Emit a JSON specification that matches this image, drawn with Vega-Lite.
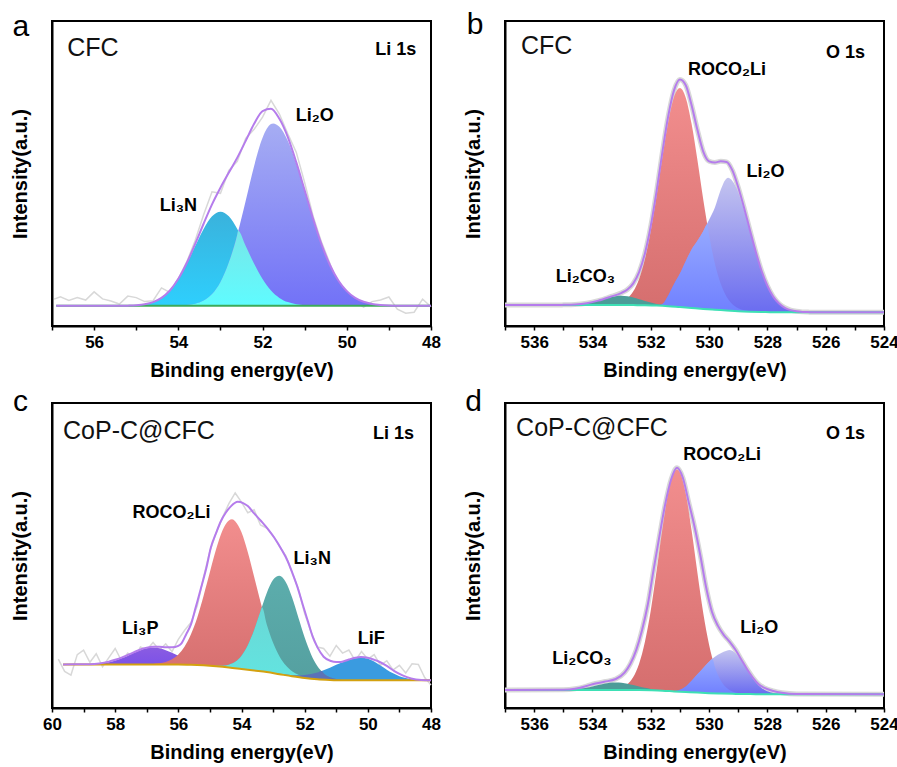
{
"$schema":"https://vega.github.io/schema/vega-lite/v6.json",
"background":"white",
"padding":{"left":9,"top":8,"right":0,"bottom":0},
"config":{
 "font":"Liberation Sans",
 "view":{"stroke":"black","strokeWidth":2},
 "axis":{"grid":false,"domainColor":"black","domainWidth":2,"tickColor":"black","labelColor":"black","titleColor":"black","titleFontSize":20,"titleFontWeight":"bold","labelFontSize":17,"labelFontWeight":"bold","labelFont":"Liberation Sans","titleFont":"Liberation Sans"},
 "axisX":{"tickSize":4,"tickWidth":1.5,"labelPadding":4,"titlePadding":10,"labelFlush":false,"labelOverlap":false},
 "axisY":{"labels":false,"ticks":false,"titlePadding":22}
},
"datasets":{
"aRaw":[{"e":56.95,"v":8.8},{"e":56.8,"v":9.6},{"e":56.6,"v":8.4},{"e":56.4,"v":9.3},{"e":56.2,"v":8.5},{"e":56.0,"v":11.2},{"e":55.8,"v":8.9},{"e":55.6,"v":8.2},{"e":55.4,"v":7.2},{"e":55.2,"v":9.8},{"e":55.0,"v":9.3},{"e":54.8,"v":8.0},{"e":54.6,"v":8.3},{"e":54.4,"v":12.5},{"e":54.2,"v":11.0},{"e":54.0,"v":15.5},{"e":53.8,"v":21.0},{"e":53.6,"v":28.0},{"e":53.4,"v":36.5},{"e":53.2,"v":44.0},{"e":53.0,"v":43.5},{"e":52.8,"v":51.0},{"e":52.6,"v":54.0},{"e":52.4,"v":61.5},{"e":52.2,"v":64.5},{"e":52.0,"v":68.5},{"e":51.8,"v":74.0},{"e":51.6,"v":69.5},{"e":51.4,"v":63.0},{"e":51.2,"v":57.0},{"e":51.0,"v":47.0},{"e":50.8,"v":36.0},{"e":50.6,"v":27.5},{"e":50.4,"v":20.5},{"e":50.2,"v":13.0},{"e":50.0,"v":11.5},{"e":49.8,"v":8.0},{"e":49.6,"v":6.2},{"e":49.4,"v":8.0},{"e":49.2,"v":8.5},{"e":49.0,"v":9.5},{"e":48.8,"v":5.5},{"e":48.6,"v":4.2},{"e":48.4,"v":4.5},{"e":48.2,"v":8.8},{"e":48.0,"v":6.3}],
"aN":[{"e":55.4,"v":6.6},{"e":55.2,"v":6.67},{"e":55.0,"v":6.8},{"e":54.8,"v":7.12},{"e":54.6,"v":7.83},{"e":54.4,"v":9.22},{"e":54.2,"v":11.64},{"e":54.0,"v":15.38},{"e":53.8,"v":20.4},{"e":53.6,"v":26.2},{"e":53.4,"v":31.8},{"e":53.2,"v":36.0},{"e":53.0,"v":37.5},{"e":52.8,"v":36.0},{"e":52.6,"v":31.8},{"e":52.4,"v":26.2},{"e":52.2,"v":20.4},{"e":52.0,"v":15.38},{"e":51.8,"v":11.64},{"e":51.6,"v":9.22},{"e":51.4,"v":7.83},{"e":51.2,"v":7.12},{"e":51.0,"v":6.8},{"e":50.8,"v":6.67},{"e":50.6,"v":6.6}],
"aL":[{"e":54.2,"v":6.6},{"e":54.0,"v":6.68},{"e":53.8,"v":6.85},{"e":53.6,"v":7.3},{"e":53.4,"v":8.33},{"e":53.2,"v":10.48},{"e":53.0,"v":14.44},{"e":52.8,"v":20.9},{"e":52.6,"v":30.0},{"e":52.4,"v":41.1},{"e":52.2,"v":52.5},{"e":52.0,"v":61.7},{"e":51.8,"v":66.2},{"e":51.75,"v":66.4},{"e":51.6,"v":65.3},{"e":51.4,"v":60.7},{"e":51.2,"v":53.2},{"e":51.0,"v":44.3},{"e":50.8,"v":35.1},{"e":50.6,"v":26.8},{"e":50.4,"v":20.0},{"e":50.2,"v":14.91},{"e":50.0,"v":11.43},{"e":49.8,"v":9.23},{"e":49.6,"v":7.94},{"e":49.4,"v":7.24},{"e":49.2,"v":6.89},{"e":49.0,"v":6.72},{"e":48.8,"v":6.65},{"e":48.6,"v":6.6}],
"aO":[{"e":54.2,"v":6.6},{"e":54.0,"v":6.68},{"e":53.8,"v":6.85},{"e":53.6,"v":7.3},{"e":53.4,"v":8.33},{"e":53.2,"v":10.48},{"e":53.0,"v":14.44},{"e":52.8,"v":20.9},{"e":52.6,"v":30.0},{"e":52.58,"v":31.2},{"e":52.4,"v":26.2},{"e":52.2,"v":20.4},{"e":52.0,"v":15.38},{"e":51.8,"v":11.64},{"e":51.6,"v":9.22},{"e":51.4,"v":7.83},{"e":51.2,"v":7.12},{"e":51.0,"v":6.8},{"e":50.8,"v":6.67},{"e":50.6,"v":6.6}],
"aE":[{"e":56.9,"v":6.6},{"e":55.4,"v":6.6},{"e":55.2,"v":6.67},{"e":55.0,"v":6.8},{"e":54.8,"v":7.12},{"e":54.6,"v":7.83},{"e":54.4,"v":9.22},{"e":54.2,"v":11.64},{"e":54.0,"v":15.46},{"e":53.8,"v":20.65},{"e":53.6,"v":26.9},{"e":53.4,"v":33.53},{"e":53.2,"v":39.88},{"e":53.0,"v":45.34},{"e":52.8,"v":50.3},{"e":52.6,"v":55.2},{"e":52.4,"v":60.7},{"e":52.2,"v":66.3},{"e":52.0,"v":70.48},{"e":51.8,"v":71.24},{"e":51.6,"v":67.92},{"e":51.4,"v":61.93},{"e":51.2,"v":53.72},{"e":51.0,"v":44.5},{"e":50.8,"v":35.17},{"e":50.6,"v":26.8},{"e":50.4,"v":20.0},{"e":50.2,"v":14.91},{"e":50.0,"v":11.43},{"e":49.8,"v":9.23},{"e":49.6,"v":7.94},{"e":49.4,"v":7.24},{"e":49.2,"v":6.89},{"e":49.0,"v":6.72},{"e":48.8,"v":6.65},{"e":48.0,"v":6.6}],
"aB":[{"e":56.9,"v":6.6},{"e":48.0,"v":6.6}],
"bR":[{"e":533.8,"v":6.9,"b":6.9},{"e":533.6,"v":6.95,"b":6.9},{"e":533.4,"v":7.04,"b":6.9},{"e":533.2,"v":7.28,"b":6.9},{"e":533.0,"v":7.85,"b":6.9},{"e":532.8,"v":9.04,"b":6.88},{"e":532.6,"v":11.36,"b":6.85},{"e":532.4,"v":15.45,"b":6.82},{"e":532.2,"v":21.9,"b":6.8},{"e":532.0,"v":31.15,"b":6.75},{"e":531.8,"v":42.6,"b":6.7},{"e":531.6,"v":55.3,"b":6.6},{"e":531.4,"v":66.9,"b":6.5},{"e":531.2,"v":75.15,"b":6.35},{"e":531.0,"v":78.0,"b":6.2},{"e":530.8,"v":74.85,"b":6.05},{"e":530.6,"v":66.3,"b":5.9},{"e":530.4,"v":54.45,"b":5.75},{"e":530.2,"v":41.5,"b":5.6},{"e":530.0,"v":29.9,"b":5.5},{"e":529.8,"v":20.45,"b":5.35},{"e":529.6,"v":13.83,"b":5.2},{"e":529.4,"v":9.61,"b":5.1},{"e":529.2,"v":7.11,"b":4.95},{"e":529.0,"v":5.8,"b":4.85},{"e":528.8,"v":5.13,"b":4.75},{"e":528.6,"v":4.84,"b":4.7},{"e":528.4,"v":4.7,"b":4.65},{"e":528.2,"v":4.6,"b":4.6}],
"bL":[{"e":531.8,"v":6.7,"b":6.7},{"e":531.6,"v":7.2,"b":6.6},{"e":531.4,"v":10.0,"b":6.5},{"e":531.2,"v":13.75,"b":6.35},{"e":531.0,"v":17.2,"b":6.2},{"e":530.8,"v":21.25,"b":6.05},{"e":530.6,"v":25.1,"b":5.9},{"e":530.4,"v":27.95,"b":5.75},{"e":530.2,"v":31.1,"b":5.6},{"e":530.0,"v":34.8,"b":5.5},{"e":529.8,"v":38.85,"b":5.35},{"e":529.6,"v":44.7,"b":5.2},{"e":529.4,"v":48.4,"b":5.1},{"e":529.35,"v":48.57,"b":5.07},{"e":529.2,"v":47.55,"b":4.95},{"e":529.0,"v":43.85,"b":4.85},{"e":528.8,"v":37.95,"b":4.75},{"e":528.6,"v":31.1,"b":4.7},{"e":528.4,"v":24.15,"b":4.65},{"e":528.2,"v":18.0,"b":4.6},{"e":528.0,"v":13.16,"b":4.55},{"e":527.8,"v":9.64,"b":4.5},{"e":527.6,"v":7.36,"b":4.5},{"e":527.4,"v":5.98,"b":4.5},{"e":527.2,"v":5.21,"b":4.5},{"e":527.0,"v":4.82,"b":4.5},{"e":526.8,"v":4.63,"b":4.5},{"e":526.6,"v":4.55,"b":4.5},{"e":526.4,"v":4.5,"b":4.5}],
"bO":[{"e":531.8,"v":6.7,"b":6.7},{"e":531.6,"v":7.2,"b":6.6},{"e":531.4,"v":10.0,"b":6.5},{"e":531.2,"v":13.75,"b":6.35},{"e":531.0,"v":17.2,"b":6.2},{"e":530.8,"v":21.25,"b":6.05},{"e":530.6,"v":25.1,"b":5.9},{"e":530.4,"v":27.95,"b":5.75},{"e":530.2,"v":31.1,"b":5.6},{"e":530.06,"v":33.4,"b":5.52},{"e":530.0,"v":29.9,"b":5.5},{"e":529.8,"v":20.45,"b":5.35},{"e":529.6,"v":13.83,"b":5.2},{"e":529.4,"v":9.61,"b":5.1},{"e":529.2,"v":7.11,"b":4.95},{"e":529.0,"v":5.8,"b":4.85},{"e":528.8,"v":5.13,"b":4.75},{"e":528.6,"v":4.84,"b":4.7},{"e":528.4,"v":4.7,"b":4.65},{"e":528.2,"v":4.6,"b":4.6}],
"bC":[{"e":535.0,"v":6.93,"b":6.9},{"e":534.8,"v":6.97,"b":6.9},{"e":534.6,"v":7.04,"b":6.9},{"e":534.4,"v":7.19,"b":6.9},{"e":534.2,"v":7.45,"b":6.9},{"e":534.0,"v":7.82,"b":6.9},{"e":533.8,"v":8.31,"b":6.9},{"e":533.6,"v":8.86,"b":6.9},{"e":533.4,"v":9.38,"b":6.9},{"e":533.2,"v":9.76,"b":6.9},{"e":533.0,"v":9.9,"b":6.9},{"e":532.8,"v":9.74,"b":6.88},{"e":532.6,"v":9.33,"b":6.85},{"e":532.4,"v":8.78,"b":6.82},{"e":532.2,"v":8.21,"b":6.8},{"e":532.0,"v":7.67,"b":6.75},{"e":531.8,"v":7.25,"b":6.7},{"e":531.6,"v":6.89,"b":6.6},{"e":531.4,"v":6.64,"b":6.5},{"e":531.2,"v":6.42,"b":6.35},{"e":531.0,"v":6.23,"b":6.2}],
"bE":[{"e":537.0,"v":6.9},{"e":535.2,"v":6.9},{"e":535.0,"v":6.93},{"e":534.6,"v":7.04},{"e":534.2,"v":7.45},{"e":533.8,"v":8.31},{"e":533.4,"v":9.53},{"e":533.0,"v":10.88},{"e":532.8,"v":11.97},{"e":532.6,"v":13.98},{"e":532.4,"v":17.67},{"e":532.2,"v":23.81},{"e":532.0,"v":32.77},{"e":531.8,"v":44.25},{"e":531.6,"v":57.09},{"e":531.4,"v":68.84},{"e":531.2,"v":77.32},{"e":531.0,"v":80.8},{"e":530.8,"v":78.93},{"e":530.6,"v":72.4},{"e":530.4,"v":64.33},{"e":530.2,"v":57.2},{"e":530.0,"v":54.0},{"e":529.8,"v":53.6},{"e":529.6,"v":54.0},{"e":529.4,"v":53.8},{"e":529.2,"v":51.0},{"e":529.0,"v":45.5},{"e":528.8,"v":38.8},{"e":528.6,"v":31.5},{"e":528.4,"v":24.4},{"e":528.2,"v":18.1},{"e":528.0,"v":13.2},{"e":527.8,"v":9.64},{"e":527.6,"v":7.36},{"e":527.4,"v":5.98},{"e":527.2,"v":5.21},{"e":527.0,"v":4.82},{"e":526.8,"v":4.63},{"e":526.6,"v":4.55},{"e":526.4,"v":4.5},{"e":524.0,"v":4.5}],
"bB":[{"e":537,"v":6.9},{"e":533,"v":6.9},{"e":532.6,"v":6.85},{"e":532.2,"v":6.8},{"e":531.8,"v":6.7},{"e":531.4,"v":6.5},{"e":531.0,"v":6.2},{"e":530.6,"v":5.9},{"e":530.2,"v":5.6},{"e":529.8,"v":5.35},{"e":529.4,"v":5.1},{"e":529.0,"v":4.85},{"e":528.6,"v":4.7},{"e":528.2,"v":4.6},{"e":527.8,"v":4.5},{"e":524,"v":4.5}],
"cRaw":[{"e":59.8,"v":16.0},{"e":59.6,"v":12.0},{"e":59.4,"v":10.8},{"e":59.2,"v":17.5},{"e":59.0,"v":19.0},{"e":58.8,"v":15.0},{"e":58.6,"v":17.8},{"e":58.4,"v":13.5},{"e":58.2,"v":16.5},{"e":58.0,"v":19.5},{"e":57.8,"v":15.5},{"e":57.6,"v":18.0},{"e":57.4,"v":16.0},{"e":57.2,"v":20.0},{"e":57.0,"v":19.0},{"e":56.8,"v":21.5},{"e":56.6,"v":19.0},{"e":56.4,"v":21.0},{"e":56.2,"v":18.5},{"e":56.0,"v":22.5},{"e":55.8,"v":25.5},{"e":55.6,"v":28.0},{"e":55.4,"v":33.5},{"e":55.2,"v":43.0},{"e":55.0,"v":51.5},{"e":54.8,"v":57.5},{"e":54.6,"v":62.5},{"e":54.4,"v":67.0},{"e":54.2,"v":70.5},{"e":54.0,"v":67.5},{"e":53.8,"v":64.0},{"e":53.6,"v":65.0},{"e":53.4,"v":60.0},{"e":53.2,"v":59.0},{"e":53.0,"v":56.5},{"e":52.8,"v":53.0},{"e":52.6,"v":50.0},{"e":52.4,"v":44.5},{"e":52.2,"v":39.0},{"e":52.0,"v":31.0},{"e":51.8,"v":25.0},{"e":51.6,"v":20.0},{"e":51.4,"v":19.5},{"e":51.2,"v":17.0},{"e":51.0,"v":20.5},{"e":50.8,"v":18.0},{"e":50.6,"v":19.0},{"e":50.4,"v":15.5},{"e":50.2,"v":18.5},{"e":50.0,"v":16.0},{"e":49.8,"v":17.5},{"e":49.6,"v":14.0},{"e":49.4,"v":15.5},{"e":49.2,"v":12.5},{"e":49.0,"v":14.0},{"e":48.8,"v":11.5},{"e":48.6,"v":14.5},{"e":48.4,"v":14.3},{"e":48.2,"v":10.0},{"e":48.0,"v":7.5}],
"cP":[{"e":59.2,"v":14.3,"b":14.3},{"e":59.0,"v":14.34,"b":14.3},{"e":58.8,"v":14.39,"b":14.3},{"e":58.6,"v":14.5,"b":14.3},{"e":58.4,"v":14.7,"b":14.3},{"e":58.2,"v":15.04,"b":14.3},{"e":58.0,"v":15.57,"b":14.3},{"e":57.8,"v":16.28,"b":14.3},{"e":57.6,"v":17.16,"b":14.3},{"e":57.4,"v":18.11,"b":14.3},{"e":57.2,"v":18.97,"b":14.3},{"e":57.0,"v":19.58,"b":14.3},{"e":56.8,"v":19.8,"b":14.3},{"e":56.6,"v":19.58,"b":14.3},{"e":56.4,"v":18.97,"b":14.3},{"e":56.2,"v":18.11,"b":14.3},{"e":56.0,"v":17.16,"b":14.3},{"e":55.8,"v":16.23,"b":14.25},{"e":55.6,"v":15.47,"b":14.2},{"e":55.4,"v":14.84,"b":14.1},{"e":55.2,"v":14.4,"b":14.0},{"e":55.0,"v":14.05,"b":13.85},{"e":54.8,"v":13.79,"b":13.7},{"e":54.6,"v":13.54,"b":13.5},{"e":54.4,"v":13.3,"b":13.3}],
"cR":[{"e":57.0,"v":14.35,"b":14.3},{"e":56.8,"v":14.44,"b":14.3},{"e":56.6,"v":14.64,"b":14.3},{"e":56.4,"v":15.08,"b":14.3},{"e":56.2,"v":15.95,"b":14.3},{"e":56.0,"v":17.53,"b":14.3},{"e":55.8,"v":20.15,"b":14.25},{"e":55.6,"v":24.17,"b":14.2},{"e":55.4,"v":29.7,"b":14.1},{"e":55.2,"v":36.8,"b":14.0},{"e":55.0,"v":44.55,"b":13.85},{"e":54.8,"v":52.2,"b":13.7},{"e":54.6,"v":58.3,"b":13.5},{"e":54.4,"v":61.5,"b":13.3},{"e":54.3,"v":61.87,"b":13.17},{"e":54.2,"v":61.25,"b":13.05},{"e":54.0,"v":57.6,"b":12.8},{"e":53.8,"v":51.05,"b":12.55},{"e":53.6,"v":43.0,"b":12.3},{"e":53.4,"v":34.85,"b":12.05},{"e":53.2,"v":27.4,"b":11.8},{"e":53.0,"v":21.42,"b":11.45},{"e":52.8,"v":17.0,"b":11.1},{"e":52.6,"v":13.98,"b":10.75},{"e":52.4,"v":12.05,"b":10.4},{"e":52.2,"v":10.88,"b":10.1},{"e":52.0,"v":10.14,"b":9.8},{"e":51.8,"v":9.74,"b":9.6},{"e":51.6,"v":9.45,"b":9.4},{"e":51.4,"v":9.3,"b":9.3}],
"cF":[{"e":53.0,"v":11.45,"b":11.45},{"e":52.8,"v":11.21,"b":11.1},{"e":52.6,"v":10.96,"b":10.75},{"e":52.4,"v":10.77,"b":10.4},{"e":52.2,"v":10.73,"b":10.1},{"e":52.0,"v":10.8,"b":9.8},{"e":51.8,"v":11.12,"b":9.6},{"e":51.6,"v":11.61,"b":9.4},{"e":51.4,"v":12.34,"b":9.3},{"e":51.2,"v":13.19,"b":9.2},{"e":51.0,"v":14.14,"b":9.15},{"e":50.8,"v":15.03,"b":9.1},{"e":50.6,"v":15.8,"b":9.1},{"e":50.4,"v":16.32,"b":9.1},{"e":50.2,"v":16.5,"b":9.1},{"e":50.0,"v":16.16,"b":9.1},{"e":49.8,"v":15.22,"b":9.1},{"e":49.6,"v":13.93,"b":9.1},{"e":49.4,"v":12.57,"b":9.1},{"e":49.2,"v":11.37,"b":9.1},{"e":49.0,"v":10.45,"b":9.1},{"e":48.8,"v":9.83,"b":9.1},{"e":48.6,"v":9.46,"b":9.1},{"e":48.4,"v":9.26,"b":9.1},{"e":48.2,"v":9.17,"b":9.1},{"e":48.0,"v":9.12,"b":9.1}],
"cN":[{"e":55.2,"v":14.0,"b":14.0},{"e":55.0,"v":13.89,"b":13.85},{"e":54.8,"v":13.82,"b":13.7},{"e":54.6,"v":13.86,"b":13.5},{"e":54.4,"v":14.22,"b":13.3},{"e":54.2,"v":15.17,"b":13.05},{"e":54.0,"v":17.17,"b":12.8},{"e":53.8,"v":20.61,"b":12.55},{"e":53.6,"v":25.6,"b":12.3},{"e":53.4,"v":31.65,"b":12.05},{"e":53.2,"v":37.7,"b":11.8},{"e":53.0,"v":42.05,"b":11.45},{"e":52.8,"v":43.4,"b":11.1},{"e":52.6,"v":41.35,"b":10.75},{"e":52.4,"v":36.3,"b":10.4},{"e":52.2,"v":29.7,"b":10.1},{"e":52.0,"v":23.1,"b":9.8},{"e":51.8,"v":17.66,"b":9.6},{"e":51.6,"v":13.77,"b":9.4},{"e":51.4,"v":11.42,"b":9.3},{"e":51.2,"v":10.12,"b":9.2},{"e":51.0,"v":9.51,"b":9.15},{"e":50.8,"v":9.22,"b":9.1},{"e":50.6,"v":9.14,"b":9.1},{"e":50.4,"v":9.1,"b":9.1}],
"cO1":[{"e":55.0,"v":13.85,"b":13.85},{"e":54.8,"v":13.82,"b":13.7},{"e":54.6,"v":13.86,"b":13.5},{"e":54.4,"v":14.22,"b":13.3},{"e":54.2,"v":15.17,"b":13.05},{"e":54.0,"v":17.17,"b":12.8},{"e":53.8,"v":20.61,"b":12.55},{"e":53.6,"v":25.6,"b":12.3},{"e":53.4,"v":31.65,"b":12.05},{"e":53.35,"v":33.0,"b":12.0},{"e":53.2,"v":27.4,"b":11.8},{"e":53.0,"v":21.42,"b":11.45},{"e":52.8,"v":17.0,"b":11.1},{"e":52.6,"v":13.98,"b":10.75},{"e":52.4,"v":12.05,"b":10.4},{"e":52.2,"v":10.88,"b":10.1},{"e":52.0,"v":10.14,"b":9.8},{"e":51.8,"v":9.74,"b":9.6},{"e":51.6,"v":9.45,"b":9.4},{"e":51.4,"v":9.3,"b":9.3}],
"cO2":[{"e":53.0,"v":11.45,"b":11.45},{"e":52.8,"v":11.21,"b":11.1},{"e":52.6,"v":10.96,"b":10.75},{"e":52.4,"v":10.77,"b":10.4},{"e":52.2,"v":10.73,"b":10.1},{"e":52.0,"v":10.8,"b":9.8},{"e":51.8,"v":11.12,"b":9.6},{"e":51.6,"v":11.61,"b":9.4},{"e":51.46,"v":12.13,"b":9.33},{"e":51.4,"v":11.42,"b":9.3},{"e":51.2,"v":10.12,"b":9.2},{"e":51.0,"v":9.51,"b":9.15},{"e":50.8,"v":9.22,"b":9.1},{"e":50.6,"v":9.14,"b":9.1},{"e":50.4,"v":9.1,"b":9.1}],
"cE":[{"e":59.65,"v":14.3},{"e":58.8,"v":14.35},{"e":58.5,"v":14.6},{"e":58.2,"v":15.2},{"e":58.0,"v":15.8},{"e":57.8,"v":16.5},{"e":57.6,"v":17.4},{"e":57.4,"v":18.3},{"e":57.2,"v":19.2},{"e":57.0,"v":19.8},{"e":56.8,"v":20.1},{"e":56.6,"v":20.1},{"e":56.4,"v":19.9},{"e":56.2,"v":19.9},{"e":56.0,"v":20.4},{"e":55.9,"v":21.2},{"e":55.75,"v":24.2},{"e":55.6,"v":27.4},{"e":55.45,"v":33.0},{"e":55.28,"v":39.4},{"e":55.1,"v":46.5},{"e":54.97,"v":52.6},{"e":54.8,"v":57.5},{"e":54.65,"v":61.3},{"e":54.5,"v":64.0},{"e":54.33,"v":66.2},{"e":54.12,"v":67.6},{"e":53.95,"v":67.2},{"e":53.8,"v":66.2},{"e":53.6,"v":63.8},{"e":53.38,"v":61.3},{"e":53.15,"v":58.5},{"e":52.96,"v":55.8},{"e":52.75,"v":52.3},{"e":52.54,"v":48.2},{"e":52.38,"v":44.0},{"e":52.22,"v":39.4},{"e":52.05,"v":33.5},{"e":51.9,"v":28.5},{"e":51.75,"v":23.5},{"e":51.59,"v":19.8},{"e":51.4,"v":16.8},{"e":51.17,"v":15.4},{"e":51.0,"v":15.1},{"e":50.85,"v":15.1},{"e":50.6,"v":15.9},{"e":50.4,"v":16.45},{"e":50.22,"v":16.7},{"e":50.0,"v":16.5},{"e":49.85,"v":16.0},{"e":49.69,"v":15.4},{"e":49.4,"v":13.8},{"e":49.16,"v":12.1},{"e":48.9,"v":10.7},{"e":48.63,"v":9.7},{"e":48.3,"v":9.2},{"e":48.0,"v":9.1}],
"cB":[{"e":59.65,"v":14.3},{"e":56.0,"v":14.3},{"e":55.6,"v":14.2},{"e":55.2,"v":14.0},{"e":54.8,"v":13.7},{"e":54.4,"v":13.3},{"e":54.0,"v":12.8},{"e":53.6,"v":12.3},{"e":53.2,"v":11.8},{"e":52.8,"v":11.1},{"e":52.4,"v":10.4},{"e":52.0,"v":9.8},{"e":51.6,"v":9.4},{"e":51.2,"v":9.2},{"e":50.8,"v":9.1},{"e":48.0,"v":9.1}],
"dR":[{"e":533.6,"v":5.93,"b":5.9},{"e":533.4,"v":5.99,"b":5.9},{"e":533.2,"v":6.18,"b":5.9},{"e":533.0,"v":6.67,"b":5.9},{"e":532.8,"v":7.8,"b":5.89},{"e":532.6,"v":10.16,"b":5.88},{"e":532.4,"v":14.53,"b":5.87},{"e":532.2,"v":21.75,"b":5.85},{"e":532.0,"v":32.0,"b":5.8},{"e":531.8,"v":45.05,"b":5.75},{"e":531.6,"v":58.78,"b":5.68},{"e":531.4,"v":70.6,"b":5.6},{"e":531.2,"v":77.35,"b":5.45},{"e":531.1,"v":78.2,"b":5.4},{"e":531.0,"v":77.25,"b":5.35},{"e":530.8,"v":70.25,"b":5.25},{"e":530.6,"v":58.25,"b":5.15},{"e":530.4,"v":44.35,"b":5.05},{"e":530.2,"v":31.15,"b":4.95},{"e":530.0,"v":20.77,"b":4.87},{"e":529.8,"v":13.46,"b":4.8},{"e":529.6,"v":9.03,"b":4.75},{"e":529.4,"v":6.61,"b":4.7},{"e":529.2,"v":5.42,"b":4.65},{"e":529.0,"v":4.88,"b":4.6},{"e":528.8,"v":4.67,"b":4.58},{"e":528.6,"v":4.55,"b":4.55}],
"dL":[{"e":531.4,"v":5.6,"b":5.6},{"e":531.2,"v":5.55,"b":5.45},{"e":531.0,"v":5.95,"b":5.35},{"e":530.8,"v":7.05,"b":5.25},{"e":530.6,"v":8.95,"b":5.15},{"e":530.4,"v":11.05,"b":5.05},{"e":530.2,"v":13.15,"b":4.95},{"e":530.0,"v":15.17,"b":4.87},{"e":529.8,"v":16.8,"b":4.8},{"e":529.6,"v":17.95,"b":4.75},{"e":529.4,"v":18.8,"b":4.7},{"e":529.3,"v":18.98,"b":4.68},{"e":529.2,"v":18.75,"b":4.65},{"e":529.0,"v":17.0,"b":4.6},{"e":528.8,"v":14.18,"b":4.58},{"e":528.6,"v":11.1,"b":4.55},{"e":528.4,"v":8.46,"b":4.53},{"e":528.2,"v":6.57,"b":4.5},{"e":528.0,"v":5.47,"b":4.5},{"e":527.8,"v":4.89,"b":4.5},{"e":527.6,"v":4.64,"b":4.5},{"e":527.4,"v":4.55,"b":4.5},{"e":527.2,"v":4.5,"b":4.5}],
"dO":[{"e":531.4,"v":5.6,"b":5.6},{"e":531.2,"v":5.55,"b":5.45},{"e":531.0,"v":5.95,"b":5.35},{"e":530.8,"v":7.05,"b":5.25},{"e":530.6,"v":8.95,"b":5.15},{"e":530.4,"v":11.05,"b":5.05},{"e":530.2,"v":13.15,"b":4.95},{"e":530.0,"v":15.17,"b":4.87},{"e":529.88,"v":16.08,"b":4.83},{"e":529.8,"v":13.46,"b":4.8},{"e":529.6,"v":9.03,"b":4.75},{"e":529.4,"v":6.61,"b":4.7},{"e":529.2,"v":5.42,"b":4.65},{"e":529.0,"v":4.88,"b":4.6},{"e":528.8,"v":4.67,"b":4.58},{"e":528.6,"v":4.55,"b":4.55}],
"dC":[{"e":535.2,"v":5.9,"b":5.9},{"e":535.0,"v":5.96,"b":5.9},{"e":534.8,"v":6.02,"b":5.9},{"e":534.6,"v":6.14,"b":5.9},{"e":534.4,"v":6.36,"b":5.9},{"e":534.2,"v":6.67,"b":5.9},{"e":534.0,"v":7.08,"b":5.9},{"e":533.8,"v":7.53,"b":5.9},{"e":533.6,"v":7.97,"b":5.9},{"e":533.4,"v":8.28,"b":5.9},{"e":533.2,"v":8.4,"b":5.9},{"e":533.0,"v":8.28,"b":5.9},{"e":532.8,"v":7.96,"b":5.89},{"e":532.6,"v":7.51,"b":5.88},{"e":532.4,"v":7.05,"b":5.87},{"e":532.2,"v":6.62,"b":5.85},{"e":532.0,"v":6.26,"b":5.8},{"e":531.8,"v":5.99,"b":5.75},{"e":531.6,"v":5.8,"b":5.68},{"e":531.4,"v":5.66,"b":5.6},{"e":531.2,"v":5.45,"b":5.45}],
"dE":[{"e":537.0,"v":5.9},{"e":535.0,"v":6.0},{"e":534.6,"v":6.3},{"e":534.2,"v":7.2},{"e":534.0,"v":7.8},{"e":533.6,"v":8.6},{"e":533.2,"v":9.5},{"e":532.9,"v":11.6},{"e":532.7,"v":14.5},{"e":532.5,"v":19.0},{"e":532.3,"v":25.5},{"e":532.1,"v":34.0},{"e":531.9,"v":45.5},{"e":531.7,"v":56.5},{"e":531.5,"v":67.0},{"e":531.3,"v":75.0},{"e":531.1,"v":78.8},{"e":530.9,"v":75.5},{"e":530.7,"v":67.5},{"e":530.5,"v":59.5},{"e":530.3,"v":50.0},{"e":530.1,"v":39.5},{"e":529.9,"v":31.5},{"e":529.7,"v":27.0},{"e":529.5,"v":24.0},{"e":529.3,"v":21.8},{"e":529.1,"v":19.2},{"e":528.9,"v":16.0},{"e":528.7,"v":12.8},{"e":528.5,"v":10.0},{"e":528.3,"v":7.8},{"e":528.1,"v":6.6},{"e":527.8,"v":5.6},{"e":527.5,"v":5.0},{"e":527.0,"v":4.6},{"e":524.0,"v":4.5}],
"dB":[{"e":537,"v":5.9},{"e":533,"v":5.9},{"e":532.4,"v":5.87},{"e":532.0,"v":5.8},{"e":531.6,"v":5.68},{"e":531.2,"v":5.45},{"e":530.8,"v":5.25},{"e":530.4,"v":5.05},{"e":530.0,"v":4.87},{"e":529.6,"v":4.75},{"e":529.2,"v":4.65},{"e":528.8,"v":4.58},{"e":528.4,"v":4.53},{"e":528.2,"v":4.5},{"e":524,"v":4.5}]
},
"vconcat":[
{"hconcat":[
{"width":379,"height":305,
 "encoding":{
  "x":{"field":"e","type":"quantitative","scale":{"domain":[48,57],"reverse":true,"nice":false,"zero":false},"axis":{"title":"Binding energy(eV)","values":[57,56,55,54,53,52,51,50,49,48],"labelExpr":"datum.value % 2 == 0 ? datum.label : ''"}},
  "y":{"field":"v","type":"quantitative","scale":{"domain":[0,100],"nice":false,"zero":false},"axis":{"title":"Intensity(a.u.)"}}},
 "layer":[
  {"data":{"name":"aRaw"},"mark":{"type":"line","color":"#d8d8d8","strokeWidth":1.5}},
  {"data":{"name":"aN"},"mark":{"type":"area","interpolate":"monotone","opacity":1,"fill":{"gradient":"linear","x1":0,"y1":0,"x2":0,"y2":1,"stops":[{"offset":0,"color":"#3ab2dc"},{"offset":1,"color":"#2ecffd"}]}},"encoding":{"y2":{"datum":6.6}}},
  {"data":{"name":"aL"},"mark":{"type":"area","interpolate":"monotone","opacity":1,"fill":{"gradient":"linear","x1":0,"y1":0,"x2":0,"y2":1,"stops":[{"offset":0,"color":"#a6adf3"},{"offset":1,"color":"#7272f7"}]}},"encoding":{"y2":{"datum":6.6}}},
  {"data":{"name":"aO"},"mark":{"type":"area","interpolate":"monotone","opacity":1,"fill":{"gradient":"linear","x1":0,"y1":0,"x2":0,"y2":1,"stops":[{"offset":0,"color":"#78e6e8"},{"offset":1,"color":"#5ffcff"}]}},"encoding":{"y2":{"datum":6.6}}},
  {"data":{"name":"aB"},"mark":{"type":"line","color":"#3caa5a","strokeWidth":2}},
  {"data":{"name":"aE"},"mark":{"type":"line","interpolate":"monotone","color":"#b57cec","strokeWidth":2}},
  {"data":{"values":[{"e":57.74,"v":95,"t":"a"}]},"mark":{"type":"text","fontSize":30,"align":"center","baseline":"alphabetic","color":"black"},"encoding":{"text":{"field":"t"}}},
  {"data":{"values":[{"e":56.64,"v":88.5,"t":"CFC"}]},"mark":{"type":"text","fontSize":25,"align":"left","baseline":"alphabetic","color":"#111"},"encoding":{"text":{"field":"t"}}},
  {"data":{"values":[{"e":48.35,"v":88.8,"t":"Li 1s"}]},"mark":{"type":"text","fontSize":18,"fontWeight":"bold","align":"right","baseline":"alphabetic","color":"black"},"encoding":{"text":{"field":"t"}}},
  {"data":{"values":[{"e":51.21,"v":67.3,"t":"Li₂O"},{"e":54.44,"v":37.6,"t":"Li₃N"}]},"mark":{"type":"text","fontSize":18,"fontWeight":"bold","align":"left","baseline":"alphabetic","color":"black"},"encoding":{"text":{"field":"t"}}}
 ]},
{"width":379,"height":305,
 "encoding":{
  "x":{"field":"e","type":"quantitative","scale":{"domain":[524,537],"reverse":true,"nice":false,"zero":false},"axis":{"title":"Binding energy(eV)","values":[537,536,535,534,533,532,531,530,529,528,527,526,525,524],"labelExpr":"datum.value % 2 == 0 ? datum.label : ''"}},
  "y":{"field":"v","type":"quantitative","scale":{"domain":[0,100],"nice":false,"zero":false},"axis":{"title":"Intensity(a.u.)"}}},
 "layer":[
  {"data":{"name":"bE"},"mark":{"type":"line","interpolate":"monotone","color":"#d8d8d8","strokeWidth":5}},
  {"data":{"name":"bR"},"mark":{"type":"area","interpolate":"monotone","opacity":1,"fill":{"gradient":"linear","x1":0,"y1":0,"x2":0,"y2":1,"stops":[{"offset":0,"color":"#f28e8e"},{"offset":1,"color":"#d56e6e"}]}},"encoding":{"y2":{"field":"b"}}},
  {"data":{"name":"bL"},"mark":{"type":"area","interpolate":"monotone","opacity":1,"fill":{"gradient":"linear","x1":0,"y1":0,"x2":0,"y2":1,"stops":[{"offset":0,"color":"#c4c4ef"},{"offset":1,"color":"#6a6cf0"}]}},"encoding":{"y2":{"field":"b"}}},
  {"data":{"name":"bO"},"mark":{"type":"area","interpolate":"monotone","opacity":1,"fill":{"gradient":"linear","x1":0,"y1":0,"x2":0,"y2":1,"stops":[{"offset":0,"color":"#96aaff"},{"offset":1,"color":"#7080ff"}]}},"encoding":{"y2":{"field":"b"}}},
  {"data":{"name":"bC"},"mark":{"type":"area","interpolate":"monotone","opacity":1,"fill":"#4c9c98"},"encoding":{"y2":{"field":"b"}}},
  {"data":{"name":"bB"},"mark":{"type":"line","interpolate":"monotone","color":"#3de0b5","strokeWidth":2}},
  {"data":{"name":"bE"},"mark":{"type":"line","interpolate":"monotone","color":"#b57cec","strokeWidth":2}},
  {"data":{"values":[{"e":538.03,"v":95.8,"t":"b"}]},"mark":{"type":"text","fontSize":30,"align":"center","baseline":"alphabetic","color":"black"},"encoding":{"text":{"field":"t"}}},
  {"data":{"values":[{"e":536.45,"v":89.2,"t":"CFC"}]},"mark":{"type":"text","fontSize":25,"align":"left","baseline":"alphabetic","color":"#111"},"encoding":{"text":{"field":"t"}}},
  {"data":{"values":[{"e":524.65,"v":88.0,"t":"O 1s"}]},"mark":{"type":"text","fontSize":18,"fontWeight":"bold","align":"right","baseline":"alphabetic","color":"black"},"encoding":{"text":{"field":"t"}}},
  {"data":{"values":[{"e":530.72,"v":82.4,"t":"ROCO₂Li"},{"e":528.72,"v":49.0,"t":"Li₂O"},{"e":535.26,"v":14.5,"t":"Li₂CO₃"}]},"mark":{"type":"text","fontSize":18,"fontWeight":"bold","align":"left","baseline":"alphabetic","color":"black"},"encoding":{"text":{"field":"t"}}}
 ]}
],"spacing":20},
{"hconcat":[
{"width":379,"height":305,
 "encoding":{
  "x":{"field":"e","type":"quantitative","scale":{"domain":[48,60],"reverse":true,"nice":false,"zero":false},"axis":{"title":"Binding energy(eV)","values":[60,59,58,57,56,55,54,53,52,51,50,49,48],"labelExpr":"datum.value % 2 == 0 ? datum.label : ''"}},
  "y":{"field":"v","type":"quantitative","scale":{"domain":[0,100],"nice":false,"zero":false},"axis":{"title":"Intensity(a.u.)"}}},
 "layer":[
  {"data":{"name":"cRaw"},"mark":{"type":"line","color":"#d8d8d8","strokeWidth":1.5}},
  {"data":{"name":"cP"},"mark":{"type":"area","interpolate":"monotone","opacity":1,"fill":{"gradient":"linear","x1":0,"y1":0,"x2":0,"y2":1,"stops":[{"offset":0,"color":"#8a5ce2"},{"offset":1,"color":"#7a50e8"}]}},"encoding":{"y2":{"field":"b"}}},
  {"data":{"name":"cR"},"mark":{"type":"area","interpolate":"monotone","opacity":1,"fill":{"gradient":"linear","x1":0,"y1":0,"x2":0,"y2":1,"stops":[{"offset":0,"color":"#f28e8e"},{"offset":1,"color":"#d56e6e"}]}},"encoding":{"y2":{"field":"b"}}},
  {"data":{"name":"cF"},"mark":{"type":"area","interpolate":"monotone","opacity":1,"fill":"#3a9be0"},"encoding":{"y2":{"field":"b"}}},
  {"data":{"name":"cN"},"mark":{"type":"area","interpolate":"monotone","opacity":1,"fill":{"gradient":"linear","x1":0,"y1":0,"x2":0,"y2":1,"stops":[{"offset":0,"color":"#5cadac"},{"offset":1,"color":"#55a0a0"}]}},"encoding":{"y2":{"field":"b"}}},
  {"data":{"name":"cO1"},"mark":{"type":"area","interpolate":"monotone","opacity":1,"fill":{"gradient":"linear","x1":0,"y1":0,"x2":0,"y2":1,"stops":[{"offset":0,"color":"#6ad8d6"},{"offset":1,"color":"#62e4e0"}]}},"encoding":{"y2":{"field":"b"}}},
  {"data":{"name":"cO2"},"mark":{"type":"area","interpolate":"monotone","opacity":1,"fill":"#5b72b8"},"encoding":{"y2":{"field":"b"}}},
  {"data":{"name":"cB"},"mark":{"type":"line","interpolate":"monotone","color":"#d4a10f","strokeWidth":2}},
  {"data":{"name":"cE"},"mark":{"type":"line","interpolate":"monotone","color":"#b57cec","strokeWidth":2}},
  {"data":{"values":[{"e":61.0,"v":97.4,"t":"c"}]},"mark":{"type":"text","fontSize":30,"align":"center","baseline":"alphabetic","color":"black"},"encoding":{"text":{"field":"t"}}},
  {"data":{"values":[{"e":59.65,"v":88.1,"t":"CoP-C@CFC"}]},"mark":{"type":"text","fontSize":25,"align":"left","baseline":"alphabetic","color":"#111"},"encoding":{"text":{"field":"t"}}},
  {"data":{"values":[{"e":48.54,"v":88.1,"t":"Li 1s"}]},"mark":{"type":"text","fontSize":18,"fontWeight":"bold","align":"right","baseline":"alphabetic","color":"black"},"encoding":{"text":{"field":"t"}}},
  {"data":{"values":[{"e":57.45,"v":62.4,"t":"ROCO₂Li"},{"e":52.35,"v":47.3,"t":"Li₃N"},{"e":57.78,"v":24.2,"t":"Li₃P"},{"e":50.32,"v":20.9,"t":"LiF"}]},"mark":{"type":"text","fontSize":18,"fontWeight":"bold","align":"left","baseline":"alphabetic","color":"black"},"encoding":{"text":{"field":"t"}}}
 ]},
{"width":379,"height":305,
 "encoding":{
  "x":{"field":"e","type":"quantitative","scale":{"domain":[524,537],"reverse":true,"nice":false,"zero":false},"axis":{"title":"Binding energy(eV)","values":[537,536,535,534,533,532,531,530,529,528,527,526,525,524],"labelExpr":"datum.value % 2 == 0 ? datum.label : ''"}},
  "y":{"field":"v","type":"quantitative","scale":{"domain":[0,100],"nice":false,"zero":false},"axis":{"title":"Intensity(a.u.)"}}},
 "layer":[
  {"data":{"name":"dE"},"mark":{"type":"line","interpolate":"monotone","color":"#d8d8d8","strokeWidth":5}},
  {"data":{"name":"dR"},"mark":{"type":"area","interpolate":"monotone","opacity":1,"fill":{"gradient":"linear","x1":0,"y1":0,"x2":0,"y2":1,"stops":[{"offset":0,"color":"#f28e8e"},{"offset":1,"color":"#d56e6e"}]}},"encoding":{"y2":{"field":"b"}}},
  {"data":{"name":"dL"},"mark":{"type":"area","interpolate":"monotone","opacity":1,"fill":{"gradient":"linear","x1":0,"y1":0,"x2":0,"y2":1,"stops":[{"offset":0,"color":"#c4c4ef"},{"offset":1,"color":"#6a6cf0"}]}},"encoding":{"y2":{"field":"b"}}},
  {"data":{"name":"dO"},"mark":{"type":"area","interpolate":"monotone","opacity":1,"fill":{"gradient":"linear","x1":0,"y1":0,"x2":0,"y2":1,"stops":[{"offset":0,"color":"#96aaff"},{"offset":1,"color":"#7080ff"}]}},"encoding":{"y2":{"field":"b"}}},
  {"data":{"name":"dC"},"mark":{"type":"area","interpolate":"monotone","opacity":1,"fill":"#4c9c98"},"encoding":{"y2":{"field":"b"}}},
  {"data":{"name":"dB"},"mark":{"type":"line","interpolate":"monotone","color":"#3de0b5","strokeWidth":2}},
  {"data":{"name":"dE"},"mark":{"type":"line","interpolate":"monotone","color":"#b57cec","strokeWidth":2}},
  {"data":{"values":[{"e":538.08,"v":97.4,"t":"d"}]},"mark":{"type":"text","fontSize":30,"align":"center","baseline":"alphabetic","color":"black"},"encoding":{"text":{"field":"t"}}},
  {"data":{"values":[{"e":536.62,"v":89.2,"t":"CoP-C@CFC"}]},"mark":{"type":"text","fontSize":25,"align":"left","baseline":"alphabetic","color":"#111"},"encoding":{"text":{"field":"t"}}},
  {"data":{"values":[{"e":524.65,"v":88.1,"t":"O 1s"}]},"mark":{"type":"text","fontSize":18,"fontWeight":"bold","align":"right","baseline":"alphabetic","color":"black"},"encoding":{"text":{"field":"t"}}},
  {"data":{"values":[{"e":530.89,"v":81.3,"t":"ROCO₂Li"},{"e":528.93,"v":24.7,"t":"Li₂O"},{"e":535.38,"v":14.3,"t":"Li₂CO₃"}]},"mark":{"type":"text","fontSize":18,"fontWeight":"bold","align":"left","baseline":"alphabetic","color":"black"},"encoding":{"text":{"field":"t"}}}
 ]}
],"spacing":20}
],"spacing":4
}
